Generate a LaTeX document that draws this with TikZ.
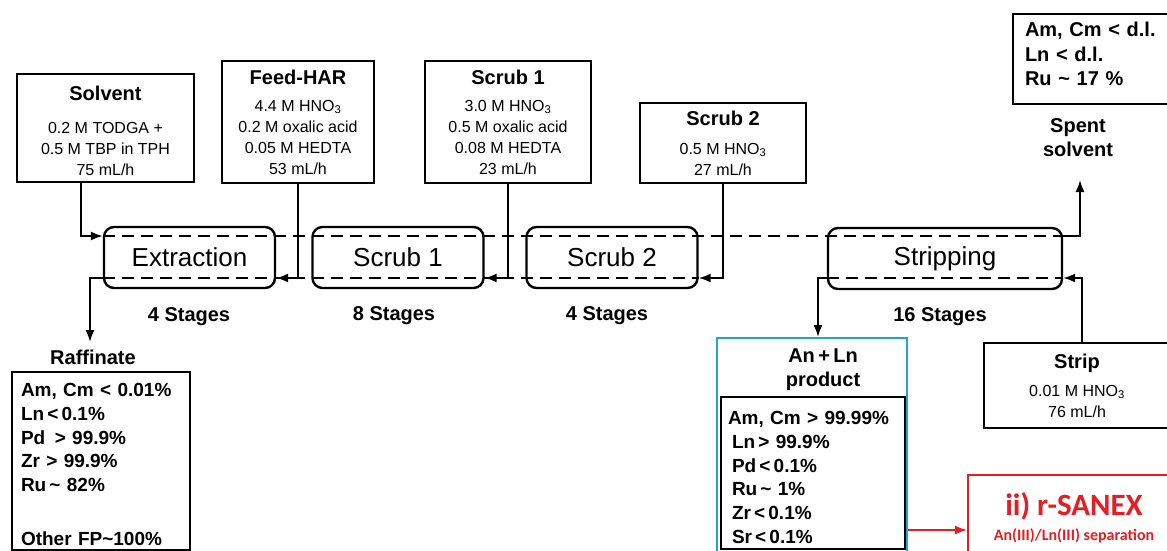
\documentclass[tikz,border=0pt]{standalone}
\usepackage{fontspec}
\setmainfont{Liberation Sans}
\newfontfamily\calib{Carlito}
\usetikzlibrary{arrows.meta,calc}
\definecolor{prodblue}{RGB}{40,160,215}
\definecolor{sanexred}{RGB}{228,30,36}
\begin{document}
\begin{tikzpicture}[x=1pt,y=-1pt,
  feedbox/.style={draw,line width=1.8pt,align=center,inner sep=0pt,font=\fontsize{16}{21}\selectfont},
  ttl/.style={font=\bfseries\fontsize{20}{24}\selectfont},
  unit/.style={draw,line width=2.4pt,rounded corners=10pt,minimum width=171pt,minimum height=61pt,inner sep=0pt,font=\fontsize{26}{30}\selectfont},
  flow/.style={line width=1.8pt,-{Latex[length=12pt,width=9pt]}},
  phaseline/.style={line width=1.8pt,dash pattern=on 12pt off 7pt},
  stagecount/.style={font=\bfseries\fontsize{20}{24}\selectfont},
  listbox/.style={draw,line width=1.8pt,align=left,inner ysep=0pt,font=\bfseries\fontsize{19}{23.7}\selectfont}
]
\useasboundingbox (0,0) rectangle (1167,551);

% feed boxes
\node[feedbox,minimum width=177pt,minimum height=108pt] (solvent) at (105.5,128)
  {\rule{0pt}{20pt}{\bfseries\fontsize{20}{24}\selectfont Solvent}\\[12pt]0.2 M TODGA +\\0.5 M TBP in TPH\\75 mL/h};
\node[feedbox,minimum width=152pt,minimum height=122pt] (feed) at (298,122)
  {{\bfseries\fontsize{20}{24}\selectfont Feed-HAR}\\[6pt]4.4 M HNO\textsubscript{3}\\0.2 M oxalic acid\\0.05 M HEDTA\\53 mL/h};
\node[feedbox,minimum width=166pt,minimum height=122pt] (washA) at (508,122)
  {{\bfseries\fontsize{20}{24}\selectfont Scrub 1}\\[6pt]3.0 M HNO\textsubscript{3}\\0.5 M oxalic acid\\0.08 M HEDTA\\23 mL/h};
\node[feedbox,minimum width=166pt,minimum height=80pt] (washB) at (723,143)
  {{\bfseries\fontsize{20}{24}\selectfont Scrub 2}\\[8pt]0.5 M HNO\textsubscript{3}\\27 mL/h};
\node[feedbox,minimum width=186pt,minimum height=85pt] (strip) at (1077,385.5)
  {{\bfseries\fontsize{20}{24}\selectfont Strip}\\[7pt]0.01 M HNO\textsubscript{3}\\76 mL/h};

% spent solvent
\node[listbox,text width=138pt,inner xsep=12pt,minimum height=90pt,font=\bfseries\fontsize{20}{24.5}\selectfont] (spent) at (1094,59)
  {Am, Cm < d.l.\\Ln < d.l.\\Ru \textasciitilde{} 17 \%\rule[-10pt]{0pt}{10pt}};
\node[ttl,align=center] (spentlbl) at (1078,138) {Spent\\solvent};
\coordinate (spentin) at (1080,180);

% units
\node[unit] (extraction) at (189.5,257.5) {Extraction};
\node[unit] (scrubA) at (398,257.5) {Scrub 1};
\node[unit] (scrubB) at (612,257.5) {Scrub 2};
\node[unit,minimum width=234pt] (stripping) at (945,258.5) {Stripping};

\node[stagecount] (n1) at (189,317) {4 Stages};
\node[stagecount] (n2) at (394,316) {8 Stages};
\node[stagecount] (n3) at (607,316) {4 Stages};
\node[stagecount] (n4) at (940,317) {16 Stages};

% raffinate
\node[ttl] (raflbl) at (93,357) {Raffinate};
\coordinate (rafin) at (90,342);
\node[listbox,text width=160pt,inner xsep=9pt,minimum height=178pt] (raf) at (101,461)
  {\rule{0pt}{20pt}Am, Cm < 0.01\%\\Ln\,<\,0.1\%\\Pd \,> 99.9\%\\Zr > 99.9\%\\Ru\,\textasciitilde{} 82\%\\[30pt]Other FP\textasciitilde 100\%};

% product
\node[draw=prodblue,line width=2pt,minimum width=190pt,minimum height=215pt,inner sep=0pt] (prod) at (812,445.5) {};
\node[ttl,align=center] (prodttl) at (823,370) {An\,+\,Ln\\product};
\node[listbox,text width=170pt,inner xsep=7pt,minimum height=152pt] (prodlist) at (813,473)
  {\rule{0pt}{22pt}Am, Cm > 99.99\%\\\hspace*{4pt}Ln\,> 99.9\%\\\hspace*{4pt}Pd\,<\,0.1\%\\\hspace*{4pt}Ru\,\textasciitilde{} 1\%\\\hspace*{4pt}Zr\,<\,0.1\%\\\hspace*{4pt}Sr\,<\,0.1\%};

% r-SANEX
\node[draw=sanexred,line width=1.8pt,text=sanexred,align=center,minimum width=212pt,minimum height=86pt,inner sep=0pt] (sanex) at (1074,518)
  {{\calib\bfseries\fontsize{31}{33}\selectfont ii) r-SANEX}\\[7pt]{\calib\bfseries\fontsize{16}{18}\selectfont An(III)/Ln(III) separation}};

% phase lines
\draw[phaseline] (extraction.west |- 0,236) -- (stripping.east |- 0,236);
\draw[phaseline] (extraction.west |- 0,278) -- (scrubB.east |- 0,278);
\draw[phaseline] (stripping.west |- 0,278) -- (stripping.east |- 0,278);

% flows
\draw[flow] ([xshift=-24.5pt]solvent.south) |- (extraction.west |- 0,236);
\draw[flow] (feed.south) |- (extraction.east |- 0,278);
\draw[flow] (washA.south) |- (scrubA.east |- 0,278);
\draw[flow] (washB.south) |- (scrubB.east |- 0,278);
\draw[flow] (stripping.east |- 0,236) -| (spentin);
\draw[flow] (extraction.west |- 0,278) -| (rafin);
\draw[flow] ([xshift=5pt]strip.north) |- (stripping.east |- 0,278);
\draw[flow] (stripping.west |- 0,278) -| ([xshift=6pt]prod.north);
\draw[flow,draw=sanexred,color=sanexred] (prod.east |- 0,530) -- (sanex.west |- 0,530);
\end{tikzpicture}
\end{document}
